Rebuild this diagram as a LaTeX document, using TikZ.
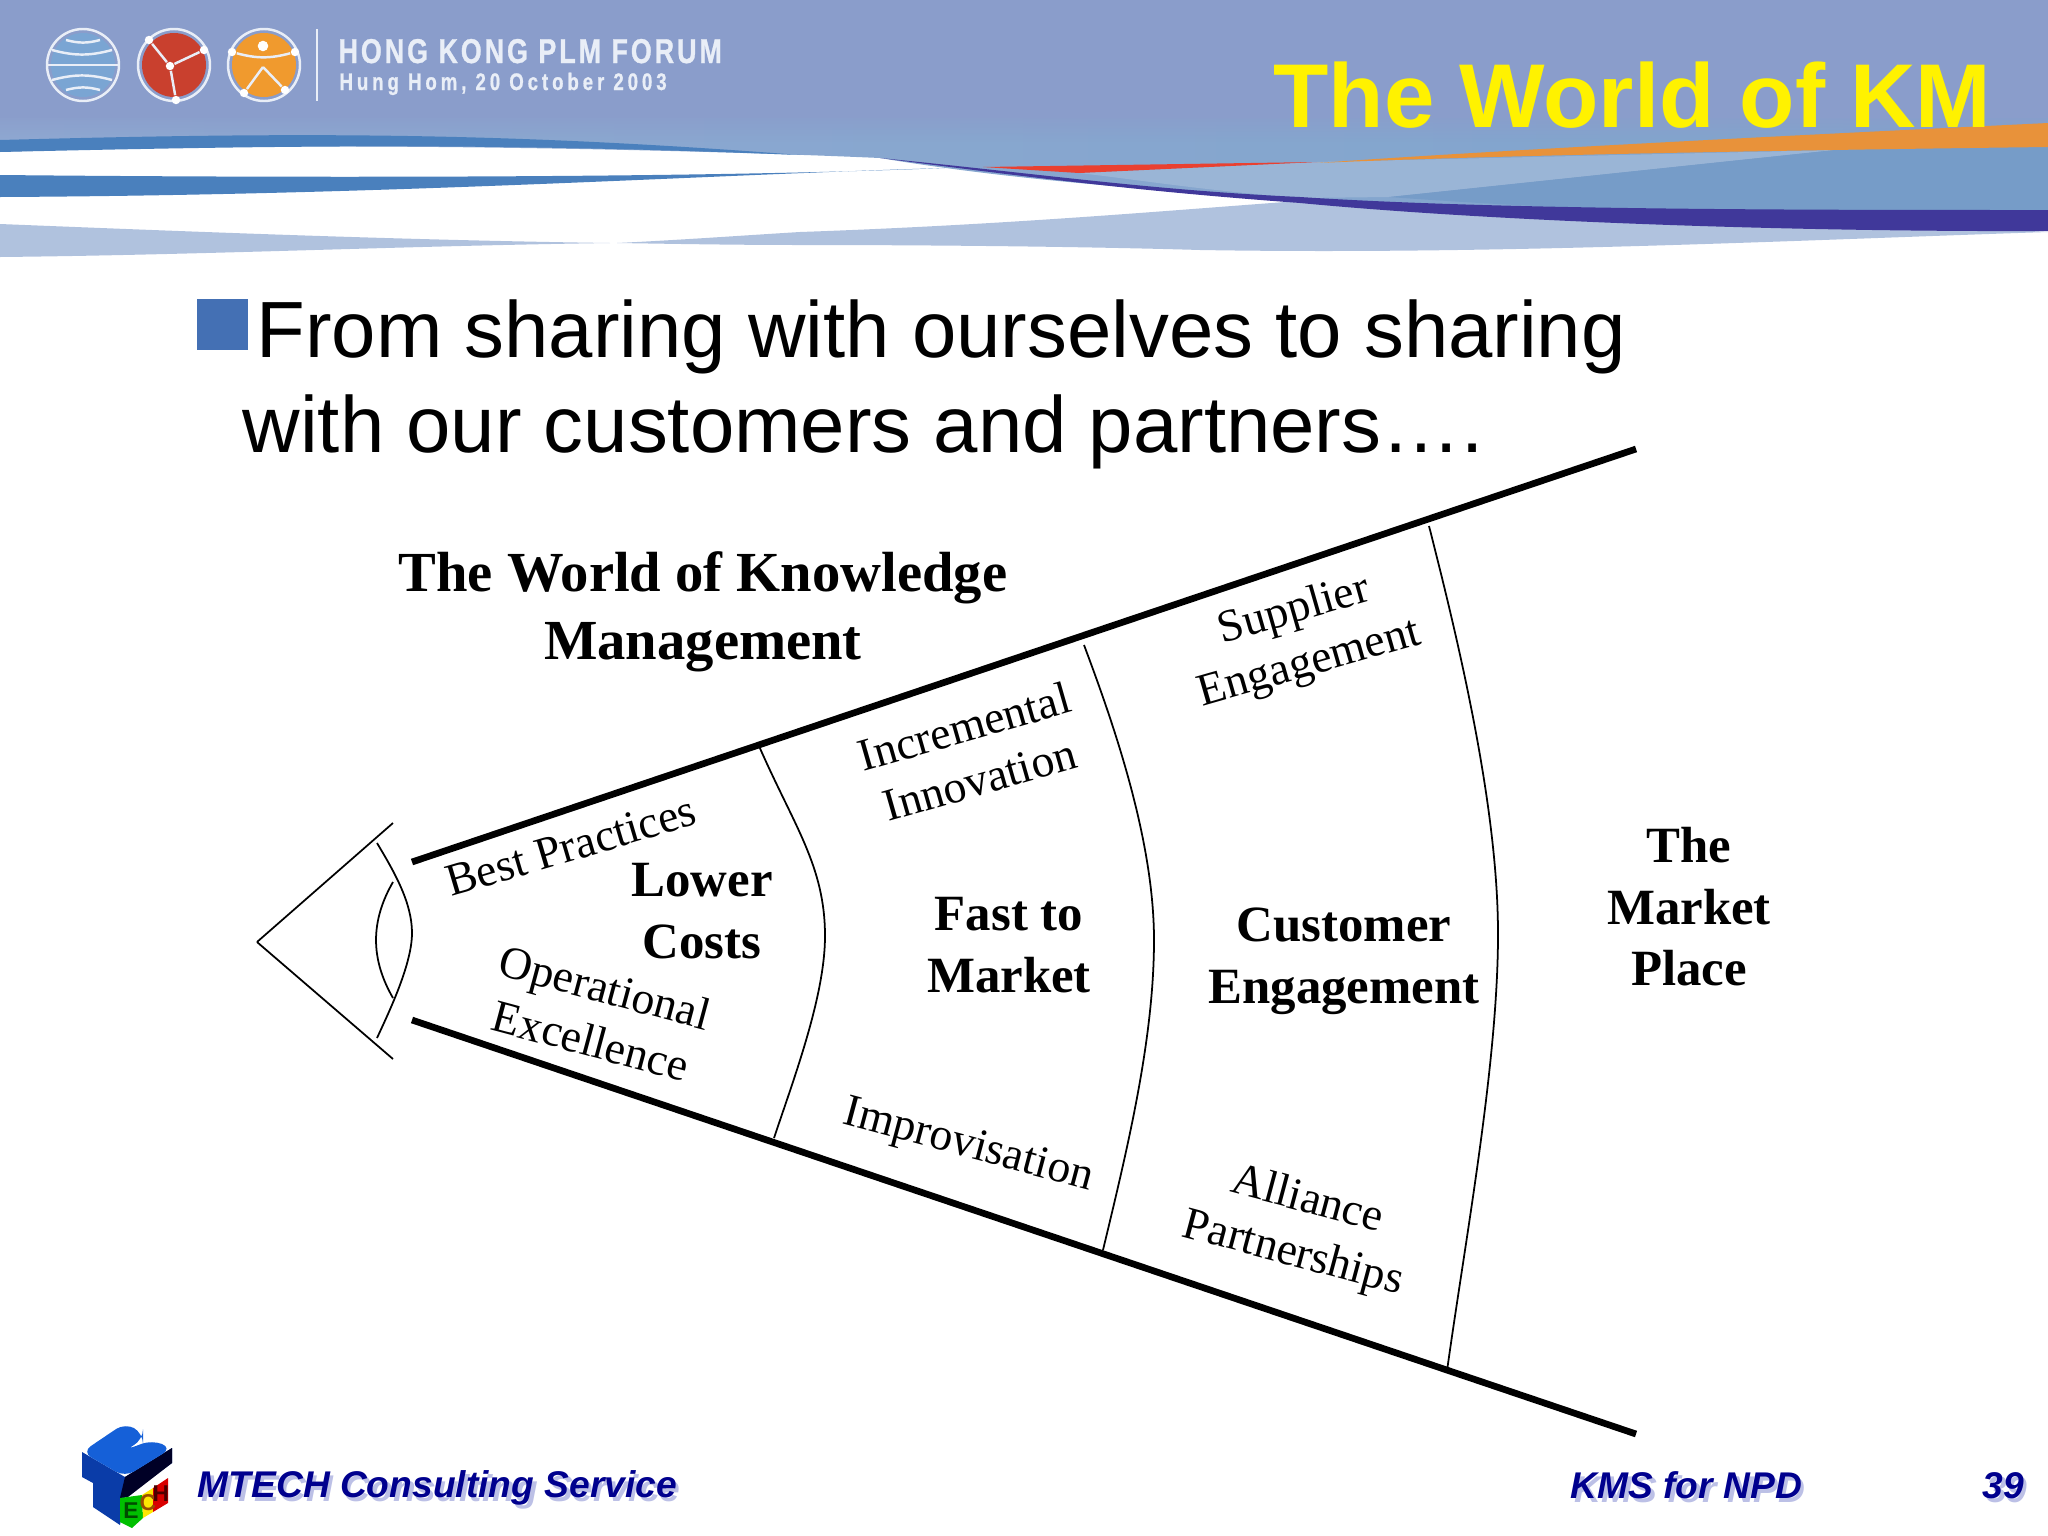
\documentclass[tikz,border=0pt]{standalone}
\usepackage{fontspec}
\setmainfont{Liberation Serif}
\newfontfamily\arialfont{Liberation Sans}
\usepackage{tikz}
\usetikzlibrary{positioning, fadings}
\definecolor{headbg}{HTML}{8A9DCB}
\definecolor{headlow}{HTML}{8FA9D2}
\definecolor{headright}{HTML}{7FA4CC}
\definecolor{stripeblue}{HTML}{4A80BD}
\definecolor{paleband}{HTML}{B0C2DE}
\definecolor{skyband}{HTML}{9AB5D6}
\definecolor{steelband}{HTML}{769CC8}
\definecolor{purpleband}{HTML}{40389A}
\definecolor{orangeband}{HTML}{E8923A}
\definecolor{redband}{HTML}{EA4030}
\definecolor{bulletblue}{HTML}{4470B4}
\definecolor{footblue}{HTML}{00008E}
\definecolor{footshade}{HTML}{BCC0E6}
\definecolor{forumwhite}{HTML}{E9EEF7}
\definecolor{globeblue}{HTML}{7AA5D3}
\definecolor{linkred}{HTML}{C9402E}
\definecolor{manorange}{HTML}{F09A2E}
\definecolor{logoblue}{HTML}{1560D8}
\definecolor{logodark}{HTML}{0A3CA8}
\newcommand{\footshadow}[1]{\makebox[0pt][l]{\hspace{1pt}\raisebox{-1.2pt}{\color{footshade}#1}}#1}
\tikzstyle{line} = [draw]
\tikzstyle{thickline} = [draw, line width = 1.9pt]
\tikzstyle{thinline} = [draw, line width = 0.5pt]
\tikzstyle{forumline} = [draw = forumwhite, line width = 0.7pt]
\tikzstyle{headtitle} = [anchor = base east, inner sep = 0pt, text = yellow, font = \arialfont\bfseries\fontsize{25.76pt}{30pt}\selectfont]
\tikzstyle{bodytext} = [anchor = base west, inner sep = 0pt, font = \arialfont\fontsize{22.67pt}{26pt}\selectfont]
\tikzstyle{bighead} = [align = center, inner sep = 0pt, font = \bfseries\fontsize{16.1pt}{19.4pt}\selectfont]
\tikzstyle{boldlabel} = [align = center, inner sep = 0pt, font = \bfseries\fontsize{14.45pt}{17.5pt}\selectfont]
\tikzstyle{slantlabel} = [align = center, inner sep = 0pt, font = \fontsize{13pt}{15.7pt}\selectfont]
\tikzstyle{foottext} = [anchor = base west, inner sep = 0pt, text = footblue, font = \arialfont\bfseries\itshape\fontsize{10.57pt}{13pt}\selectfont]
\tikzstyle{forumtext} = [anchor = base west, inner sep = 0pt, text = forumwhite, transform shape, xscale = 0.78]
\tikzstyle{dotnode} = [circle, fill = white, inner sep = 0pt, minimum size = 2.4pt]
\tikzstyle{logoletter} = [inner sep = 0pt, font = \arialfont\bfseries\fontsize{6.5pt}{7pt}\selectfont]
\begin{document}
\begin{tikzpicture}[x = 0.01cm, y = -0.01cm]
			\useasboundingbox (0, 0) rectangle (2048, 1536);

			\fill [headbg] (0, 0) rectangle (2048, 130);
			\shade [left color = headlow, right color = headright] (0, 118) -- (2048, 118) -- (2048, 215) -- (1700, 212) .. controls (1400, 205) and (1100, 195) .. (880, 158) .. controls (700, 150) and (300, 140) .. (0, 152) -- cycle;
			\fill [headbg, path fading = south] (0, 112) rectangle (2048, 142);
			\fill [stripeblue] (0, 140) .. controls (300, 132) and (500, 132) .. (800, 155) .. controls (500, 143) and (300, 145) .. (0, 152) -- cycle;
			\fill [stripeblue] (0, 175) .. controls (300, 178) and (700, 178) .. (945, 168) .. controls (700, 175) and (400, 195) .. (0, 197) -- cycle;
			\fill [paleband] (0, 224) .. controls (200, 232) and (400, 240) .. (610, 243) .. controls (400, 246) and (200, 255) .. (0, 257) -- cycle;
			\fill [paleband] (617, 243) .. controls (680, 240) and (750, 235) .. (800, 232) .. controls (1000, 225) and (1150, 212) .. (1285, 202) -- (1700, 212) -- (2048, 232) .. controls (1800, 240) and (1500, 255) .. (1200, 250) .. controls (1100, 247) and (950, 245) .. (800, 245) .. controls (740, 245) and (680, 244) .. (617, 243) -- cycle;
			\fill [skyband] (1079, 173) -- (1317, 162) -- (1835, 150) -- (1389, 197) -- (1300, 198) .. controls (1200, 190) and (1140, 180) .. (1079, 173) -- cycle;
			\fill [steelband] (1389, 197) -- (1835, 150) -- (2048, 145) -- (2048, 211) -- (1700, 211) .. controls (1600, 210) and (1500, 205) .. (1389, 197) -- cycle;
			\fill [orangeband] (1317, 163) .. controls (1500, 150) and (1800, 135) .. (2048, 123) -- (2048, 147) .. controls (1800, 150) and (1500, 155) .. (1317, 163) -- cycle;
			\fill [redband] (983, 167) -- (1317, 162) -- (1079, 173) -- cycle;
			\fill [purpleband] (880, 158) .. controls (1050, 175) and (1150, 190) .. (1300, 197) .. controls (1500, 210) and (1800, 210) .. (2048, 210) -- (2048, 231) .. controls (1800, 232) and (1500, 222) .. (1300, 203) .. controls (1150, 192) and (1050, 180) .. (880, 158) -- cycle;

			\fill [globeblue] (83, 65) circle (32);
			\path [forumline] (83, 65) circle (36);
			\path [forumline] (66, 40) to [bend right = 15] (100, 40);
			\path [forumline] (52, 50) to [bend right = 15] (112, 50);
			\path [forumline] (47, 65) -- (118, 65);
			\path [forumline] (52, 80) to [bend left = 15] (112, 80);
			\path [forumline] (66, 90) to [bend left = 15] (100, 90);

			\fill [linkred] (174, 65) circle (32);
			\path [forumline] (174, 65) circle (36);
			\node [dotnode] (redhub) at (170, 66) {};
			\node [dotnode] (redleft) at (149, 40) {};
			\node [dotnode] (redright) at (204, 50) {};
			\node [dotnode] (redlow) at (176, 100) {};
			\path [forumline] (redhub) -- (redleft);
			\path [forumline] (redhub) -- (redright);
			\path [forumline] (redhub) -- (redlow);

			\fill [manorange] (264, 65) circle (32);
			\path [forumline] (264, 65) circle (36);
			\node [dotnode, minimum size = 3pt] (manhead) at (263, 46) {};
			\node [dotnode] (manarml) at (232, 52) {};
			\node [dotnode] (manarmr) at (295, 52) {};
			\node [dotnode] (manlegl) at (244, 93) {};
			\node [dotnode] (manlegr) at (285, 90) {};
			\coordinate (manhip) at (263, 67);
			\path [forumline] (manarml) to [bend right = 15] (manarmr);
			\path [forumline] (manlegl) -- (manhip);
			\path [forumline] (manhip) -- (manlegr);

			\coordinate (septop) at (317, 29);
			\coordinate (sepbot) at (317, 101);
			\path [forumline] (septop) -- (sepbot);
			\node [forumtext, font = \arialfont\bfseries\fontsize{9.8pt}{12pt}\selectfont] (forumname) at (338, 63) {\addfontfeature{LetterSpace=11, FakeBold=1}HONG KONG PLM FORUM};
			\node [forumtext, font = \arialfont\bfseries\fontsize{6.8pt}{8pt}\selectfont] (forumdate) at (339, 90) {\addfontfeature{LetterSpace=21, FakeBold=1}Hung Hom, 20 October 2003};
			\node [headtitle] (slidetitle) at (1992, 127) {The World of KM};

			\fill [bulletblue] (197, 299) rectangle (248, 350);
			\node [bodytext] (bodyone) at (256, 357) {From sharing with ourselves to sharing};
			\node [bodytext] (bodytwo) at (242, 452) {with our customers and partners….};

			\node [bighead] (worldhead) at (703, 612) {The World of Knowledge\\Management};

			\coordinate (eyetip) at (257, 942);
			\coordinate (liptop) at (393, 823);
			\coordinate (lipbot) at (393, 1059);
			\coordinate (outertop) at (377, 843);
			\coordinate (outermid) at (412, 933);
			\coordinate (outerbot) at (377, 1038);
			\coordinate (innertop) at (393, 882);
			\coordinate (innerbot) at (393, 998);
			\path [thinline] (eyetip) -- (liptop);
			\path [thinline] (eyetip) -- (lipbot);
			\path [thinline] (outertop) .. controls +(18, 30) and +(0, -30) .. (outermid) .. controls +(0, 30) and +(14, -30) .. (outerbot);
			\path [thinline] (innertop) to [bend right = 30] (innerbot);

			\coordinate (uppera) at (412, 862);
			\coordinate (upperb) at (1636, 449);
			\coordinate (lowera) at (412, 1020);
			\coordinate (lowerb) at (1636, 1434);
			\path [thickline] (uppera) -- (upperb);
			\path [thickline] (lowera) -- (lowerb);

			\coordinate (arconetop) at (759, 746);
			\coordinate (arconemid) at (825, 936);
			\coordinate (arconebot) at (774, 1138);
			\coordinate (arctwotop) at (1084, 645);
			\coordinate (arctwomid) at (1154, 940);
			\coordinate (arctwobot) at (1103, 1250);
			\coordinate (arcthreetop) at (1429, 526);
			\coordinate (arcthreemid) at (1498, 934);
			\coordinate (arcthreebot) at (1447, 1371);
			\path [thinline] (arconetop) .. controls +(35, 80) and +(0, -70) .. (arconemid) .. controls +(0, 60) and +(20, -60) .. (arconebot);
			\path [thinline] (arctwotop) .. controls +(30, 80) and +(0, -100) .. (arctwomid) .. controls +(0, 100) and +(24, -100) .. (arctwobot);
			\path [thinline] (arcthreetop) .. controls +(28, 110) and +(0, -130) .. (arcthreemid) .. controls +(0, 130) and +(18, -130) .. (arcthreebot);

			\node [slantlabel, rotate = 16.5] (bestpractices) at (571, 846) {Best Practices};
			\node [slantlabel, rotate = 16] (incremental) at (972, 753) {Incremental\\Innovation};
			\node [slantlabel, rotate = 16] (supplier) at (1302, 638) {Supplier\\Engagement};
			\node [slantlabel, rotate = -15] (operational) at (598, 1014) {Operational\\Excellence};
			\node [slantlabel, rotate = -15] (improvisation) at (968, 1147) {Improvisation};
			\node [slantlabel, rotate = -15] (alliance) at (1300, 1228) {Alliance\\Partnerships};

			\node [boldlabel] (lowercosts) at (702, 911) {Lower\\Costs};
			\node [boldlabel] (fastmarket) at (1009, 945) {Fast to\\Market};
			\node [boldlabel] (customer) at (1344, 961) {Customer\\Engagement};
			\node [boldlabel] (marketplace) at (1689, 907) {The\\Market\\Place};

			\fill [logodark] (82, 1452) -- (125, 1477) -- (172, 1448) -- (172, 1463) -- (125, 1497) -- (120, 1525) -- (93, 1507) -- (93, 1483) -- (82, 1477) -- cycle;
			\fill [black!85!blue] (125, 1477) -- (172, 1448) -- (172, 1463) -- (128, 1497) -- (120, 1498) -- cycle;
			\fill [logoblue, rounded corners = 3pt] (125, 1423) -- (143, 1433) -- (143, 1440) -- (125, 1450) -- (152, 1440) -- (172, 1448) -- (125, 1477) -- (82, 1452) -- cycle;
			\fill [green!75!black] (120, 1498) -- (142, 1495) -- (143, 1518) -- (132, 1528) -- (120, 1522) -- cycle;
			\fill [yellow!90!orange] (142, 1495) -- (153, 1488) -- (153, 1512) -- (143, 1518) -- cycle;
			\fill [red!85!black] (153, 1488) -- (168, 1478) -- (168, 1503) -- (153, 1512) -- cycle;
			\node [logoletter, text = green!30!black] (logoe) at (131, 1511) {E};
			\node [logoletter, text = orange!60!black] (logoc) at (148, 1503) {C};
			\node [logoletter, text = red!30!black] (logoh) at (161, 1494) {H};

			\node [foottext] (footleft) at (197, 1497) {\footshadow{MTECH Consulting Service}};
			\node [foottext] (footmid) at (1570, 1498) {\footshadow{KMS for NPD}};
			\node [foottext] (footnum) at (1982, 1498) {\footshadow{39}};
		\end{tikzpicture}
\end{document}
